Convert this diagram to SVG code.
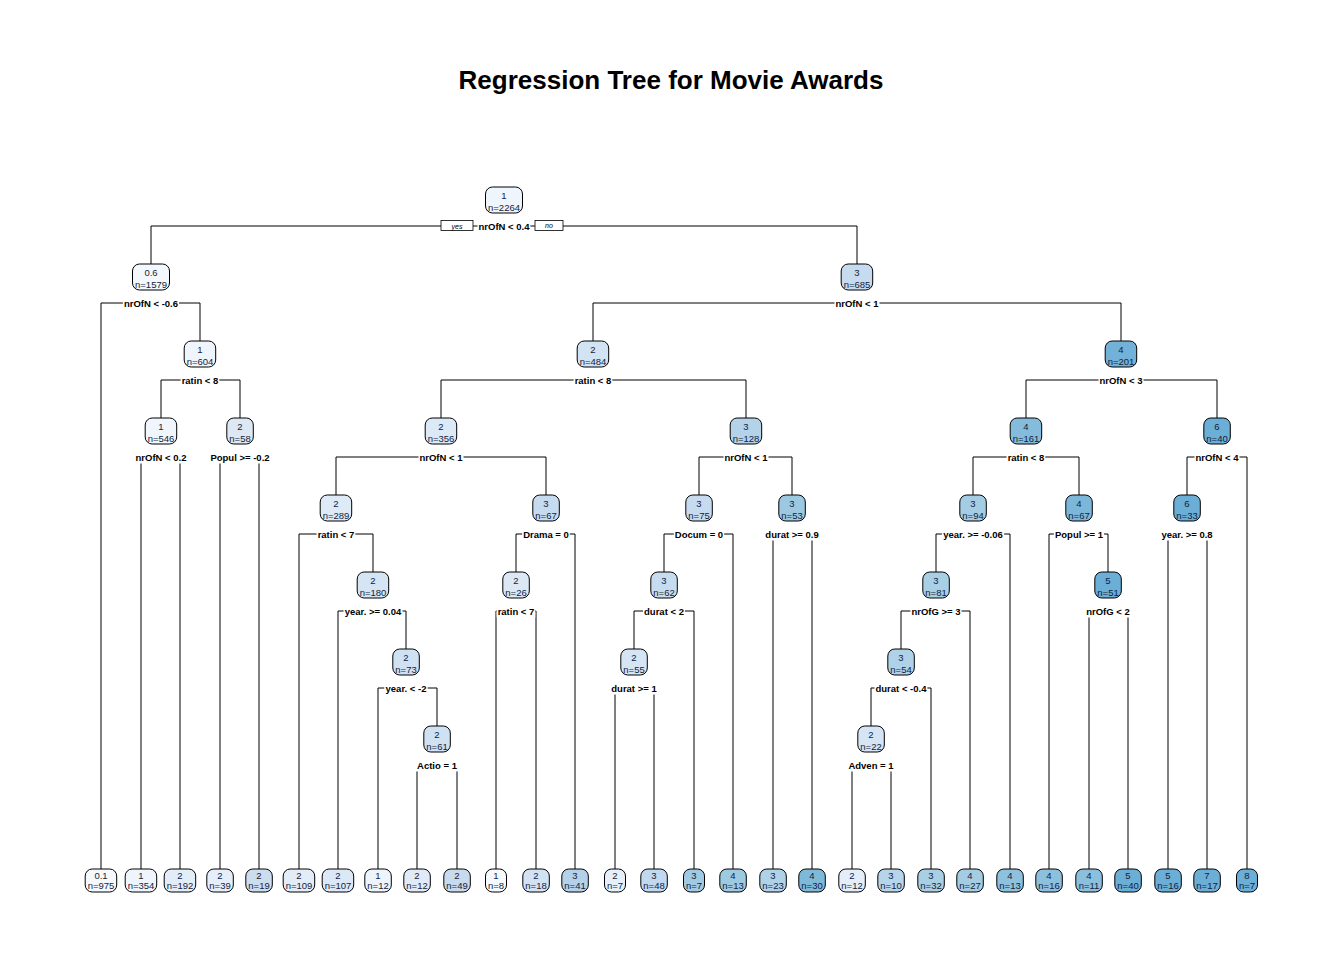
<svg xmlns="http://www.w3.org/2000/svg" width="1344" height="960" viewBox="0 0 1344 960">
<style>
.bg{fill:#fff}
.title{font-family:"Liberation Sans",Arial,sans-serif;font-size:26px;font-weight:bold;fill:#000;text-anchor:middle}
.lbl{font-family:"Liberation Sans",Arial,sans-serif;font-size:9.5px;font-weight:bold;fill:#000;text-anchor:middle}
.lb{fill:#fff}
.box{stroke:#000;stroke-width:1}
.t{font-family:"Liberation Sans",Arial,sans-serif;font-size:9.5px;fill:#141c3c;text-anchor:middle}
.yn{fill:#fff;stroke:#000;stroke-width:0.8}
.ynt{font-family:"Liberation Sans",Arial,sans-serif;font-size:7px;font-style:italic;fill:#000;text-anchor:middle}
.c{fill:none;stroke:#000;stroke-width:1}
</style>
<rect class="bg" x="0" y="0" width="1344" height="960"/>
<text class="title" x="671" y="89">Regression Tree for Movie Awards</text>
<g id="connectors" class="c">
<path d="M151 264V226H857V264"/>
<path d="M101 869V303H200V341"/>
<path d="M593 341V303H1121V341"/>
<path d="M161 418V380H240V418"/>
<path d="M441 418V380H746V418"/>
<path d="M1026 418V380H1217V418"/>
<path d="M141 869V457H180V869"/>
<path d="M220 869V457H259V869"/>
<path d="M336 495V457H546V495"/>
<path d="M699 495V457H792V495"/>
<path d="M973 495V457H1079V495"/>
<path d="M1187 495V457H1247V869"/>
<path d="M299 869V534H373V572"/>
<path d="M516 572V534H575V869"/>
<path d="M664 572V534H733V869"/>
<path d="M773 869V534H812V869"/>
<path d="M936 572V534H1010V869"/>
<path d="M1049 869V534H1108V572"/>
<path d="M1168 869V534H1207V869"/>
<path d="M338 869V611H406V649"/>
<path d="M496 869V611H536V869"/>
<path d="M634 649V611H694V869"/>
<path d="M901 649V611H970V869"/>
<path d="M1089 869V611H1128V869"/>
<path d="M378 869V688H437V726"/>
<path d="M615 869V688H654V869"/>
<path d="M871 726V688H931V869"/>
<path d="M417 869V765H457V869"/>
<path d="M852 869V765H891V869"/>
</g>
<g id="node1">
<rect class="box" x="485.5" y="187" width="37" height="26" rx="7" fill="#EEF5FC"/>
<text class="t" x="504" y="198.5">1</text><text class="t" x="504" y="210.5">n=2264</text>
<rect class="lb" x="477.5" y="220" width="52.9" height="12.5"/><text class="lbl" x="504" y="229.5">nrOfN &lt; 0.4</text>
<rect class="yn" x="441" y="220.5" width="32" height="10"/><text class="ynt" x="457" y="228.5">yes</text>
<rect class="yn" x="535" y="220.5" width="28" height="10"/><text class="ynt" x="549" y="228">no</text>
</g>
<g id="node2">
<rect class="box" x="132.5" y="264" width="37" height="26" rx="7" fill="#F3F8FD"/>
<text class="t" x="151" y="275.5">0.6</text><text class="t" x="151" y="287.5">n=1579</text>
<rect class="lb" x="122.9" y="297" width="56.1" height="12.5"/><text class="lbl" x="151" y="306.5">nrOfN &lt; -0.6</text>
</g>
<g id="node3">
<rect class="box" x="841.2" y="264" width="31.5" height="26" rx="7" fill="#C6DBEF"/>
<text class="t" x="857" y="275.5">3</text><text class="t" x="857" y="287.5">n=685</text>
<rect class="lb" x="834.5" y="297" width="45" height="12.5"/><text class="lbl" x="857" y="306.5">nrOfN &lt; 1</text>
</g>
<g id="node5">
<rect class="box" x="184.2" y="341" width="31.5" height="26" rx="7" fill="#EEF5FC"/>
<text class="t" x="200" y="352.5">1</text><text class="t" x="200" y="364.5">n=604</text>
<rect class="lb" x="180.6" y="374" width="38.7" height="12.5"/><text class="lbl" x="200" y="383.5">ratin &lt; 8</text>
</g>
<g id="node6">
<rect class="box" x="577.2" y="341" width="31.5" height="26" rx="7" fill="#D2E3F3"/>
<text class="t" x="593" y="352.5">2</text><text class="t" x="593" y="364.5">n=484</text>
<rect class="lb" x="573.6" y="374" width="38.7" height="12.5"/><text class="lbl" x="593" y="383.5">ratin &lt; 8</text>
</g>
<g id="node7">
<rect class="box" x="1105.2" y="341" width="31.5" height="26" rx="7" fill="#72B2D8"/>
<text class="t" x="1121" y="352.5">4</text><text class="t" x="1121" y="364.5">n=201</text>
<rect class="lb" x="1098.5" y="374" width="45" height="12.5"/><text class="lbl" x="1121" y="383.5">nrOfN &lt; 3</text>
</g>
<g id="node10">
<rect class="box" x="145.2" y="418" width="31.5" height="26" rx="7" fill="#F0F6FC"/>
<text class="t" x="161" y="429.5">1</text><text class="t" x="161" y="441.5">n=546</text>
<rect class="lb" x="134.5" y="451" width="52.9" height="12.5"/><text class="lbl" x="161" y="460.5">nrOfN &lt; 0.2</text>
</g>
<g id="node11">
<rect class="box" x="226.8" y="418" width="26.5" height="26" rx="7" fill="#DDE8F5"/>
<text class="t" x="240" y="429.5">2</text><text class="t" x="240" y="441.5">n=58</text>
<rect class="lb" x="209.4" y="451" width="61.1" height="12.5"/><text class="lbl" x="240" y="460.5">Popul &gt;= -0.2</text>
</g>
<g id="node12">
<rect class="box" x="425.2" y="418" width="31.5" height="26" rx="7" fill="#DCE9F6"/>
<text class="t" x="441" y="429.5">2</text><text class="t" x="441" y="441.5">n=356</text>
<rect class="lb" x="418.5" y="451" width="45" height="12.5"/><text class="lbl" x="441" y="460.5">nrOfN &lt; 1</text>
</g>
<g id="node13">
<rect class="box" x="730.2" y="418" width="31.5" height="26" rx="7" fill="#B4D3E9"/>
<text class="t" x="746" y="429.5">3</text><text class="t" x="746" y="441.5">n=128</text>
<rect class="lb" x="723.5" y="451" width="45" height="12.5"/><text class="lbl" x="746" y="460.5">nrOfN &lt; 1</text>
</g>
<g id="node14">
<rect class="box" x="1010.2" y="418" width="31.5" height="26" rx="7" fill="#85BCDC"/>
<text class="t" x="1026" y="429.5">4</text><text class="t" x="1026" y="441.5">n=161</text>
<rect class="lb" x="1006.6" y="451" width="38.7" height="12.5"/><text class="lbl" x="1026" y="460.5">ratin &lt; 8</text>
</g>
<g id="node15">
<rect class="box" x="1203.8" y="418" width="26.5" height="26" rx="7" fill="#6BAED6"/>
<text class="t" x="1217" y="429.5">6</text><text class="t" x="1217" y="441.5">n=40</text>
<rect class="lb" x="1194.5" y="451" width="45" height="12.5"/><text class="lbl" x="1217" y="460.5">nrOfN &lt; 4</text>
</g>
<g id="node24">
<rect class="box" x="320.2" y="495" width="31.5" height="26" rx="7" fill="#DEEAF6"/>
<text class="t" x="336" y="506.5">2</text><text class="t" x="336" y="518.5">n=289</text>
<rect class="lb" x="316.6" y="528" width="38.7" height="12.5"/><text class="lbl" x="336" y="537.5">ratin &lt; 7</text>
</g>
<g id="node25">
<rect class="box" x="532.8" y="495" width="26.5" height="26" rx="7" fill="#C6DBEF"/>
<text class="t" x="546" y="506.5">3</text><text class="t" x="546" y="518.5">n=67</text>
<rect class="lb" x="522.1" y="528" width="47.7" height="12.5"/><text class="lbl" x="546" y="537.5">Drama = 0</text>
</g>
<g id="node26">
<rect class="box" x="685.8" y="495" width="26.5" height="26" rx="7" fill="#C6DBEF"/>
<text class="t" x="699" y="506.5">3</text><text class="t" x="699" y="518.5">n=75</text>
<rect class="lb" x="673.8" y="528" width="50.3" height="12.5"/><text class="lbl" x="699" y="537.5">Docum = 0</text>
</g>
<g id="node27">
<rect class="box" x="778.8" y="495" width="26.5" height="26" rx="7" fill="#9CC9E1"/>
<text class="t" x="792" y="506.5">3</text><text class="t" x="792" y="518.5">n=53</text>
<rect class="lb" x="764.3" y="528" width="55.3" height="12.5"/><text class="lbl" x="792" y="537.5">durat &gt;= 0.9</text>
</g>
<g id="node28">
<rect class="box" x="959.8" y="495" width="26.5" height="26" rx="7" fill="#A4CCE3"/>
<text class="t" x="973" y="506.5">3</text><text class="t" x="973" y="518.5">n=94</text>
<rect class="lb" x="941.9" y="528" width="62.2" height="12.5"/><text class="lbl" x="973" y="537.5">year. &gt;= -0.06</text>
</g>
<g id="node29">
<rect class="box" x="1065.8" y="495" width="26.5" height="26" rx="7" fill="#7CB7DA"/>
<text class="t" x="1079" y="506.5">4</text><text class="t" x="1079" y="518.5">n=67</text>
<rect class="lb" x="1053.9" y="528" width="50.1" height="12.5"/><text class="lbl" x="1079" y="537.5">Popul &gt;= 1</text>
</g>
<g id="node30">
<rect class="box" x="1173.8" y="495" width="26.5" height="26" rx="7" fill="#6BAED6"/>
<text class="t" x="1187" y="506.5">6</text><text class="t" x="1187" y="518.5">n=33</text>
<rect class="lb" x="1160.1" y="528" width="53.8" height="12.5"/><text class="lbl" x="1187" y="537.5">year. &gt;= 0.8</text>
</g>
<g id="node49">
<rect class="box" x="357.2" y="572" width="31.5" height="26" rx="7" fill="#D6E5F4"/>
<text class="t" x="373" y="583.5">2</text><text class="t" x="373" y="595.5">n=180</text>
<rect class="lb" x="343.5" y="605" width="59" height="12.5"/><text class="lbl" x="373" y="614.5">year. &gt;= 0.04</text>
</g>
<g id="node50">
<rect class="box" x="502.8" y="572" width="26.5" height="26" rx="7" fill="#DCE8F5"/>
<text class="t" x="516" y="583.5">2</text><text class="t" x="516" y="595.5">n=26</text>
<rect class="lb" x="496.6" y="605" width="38.7" height="12.5"/><text class="lbl" x="516" y="614.5">ratin &lt; 7</text>
</g>
<g id="node52">
<rect class="box" x="650.8" y="572" width="26.5" height="26" rx="7" fill="#C8DCEF"/>
<text class="t" x="664" y="583.5">3</text><text class="t" x="664" y="595.5">n=62</text>
<rect class="lb" x="643" y="605" width="41.9" height="12.5"/><text class="lbl" x="664" y="614.5">durat &lt; 2</text>
</g>
<g id="node56">
<rect class="box" x="922.8" y="572" width="26.5" height="26" rx="7" fill="#A9CFE5"/>
<text class="t" x="936" y="583.5">3</text><text class="t" x="936" y="595.5">n=81</text>
<rect class="lb" x="910.4" y="605" width="51.1" height="12.5"/><text class="lbl" x="936" y="614.5">nrOfG &gt;= 3</text>
</g>
<g id="node59">
<rect class="box" x="1094.8" y="572" width="26.5" height="26" rx="7" fill="#6BAED6"/>
<text class="t" x="1108" y="583.5">5</text><text class="t" x="1108" y="595.5">n=51</text>
<rect class="lb" x="1085.2" y="605" width="45.6" height="12.5"/><text class="lbl" x="1108" y="614.5">nrOfG &lt; 2</text>
</g>
<g id="node98">
<rect class="box" x="392.8" y="649" width="26.5" height="26" rx="7" fill="#D0E1F2"/>
<text class="t" x="406" y="660.5">2</text><text class="t" x="406" y="672.5">n=73</text>
<rect class="lb" x="384.2" y="682" width="43.5" height="12.5"/><text class="lbl" x="406" y="691.5">year. &lt; -2</text>
</g>
<g id="node104">
<rect class="box" x="620.8" y="649" width="26.5" height="26" rx="7" fill="#D6E5F4"/>
<text class="t" x="634" y="660.5">2</text><text class="t" x="634" y="672.5">n=55</text>
<rect class="lb" x="610.3" y="682" width="47.4" height="12.5"/><text class="lbl" x="634" y="691.5">durat &gt;= 1</text>
</g>
<g id="node112">
<rect class="box" x="887.8" y="649" width="26.5" height="26" rx="7" fill="#B0D2E8"/>
<text class="t" x="901" y="660.5">3</text><text class="t" x="901" y="672.5">n=54</text>
<rect class="lb" x="874.5" y="682" width="52.9" height="12.5"/><text class="lbl" x="901" y="691.5">durat &lt; -0.4</text>
</g>
<g id="node196">
<rect class="box" x="423.8" y="726" width="26.5" height="26" rx="7" fill="#D0E1F2"/>
<text class="t" x="437" y="737.5">2</text><text class="t" x="437" y="749.5">n=61</text>
<rect class="lb" x="416" y="759" width="41.9" height="12.5"/><text class="lbl" x="437" y="768.5">Actio = 1</text>
</g>
<g id="node224">
<rect class="box" x="857.8" y="726" width="26.5" height="26" rx="7" fill="#D6E5F4"/>
<text class="t" x="871" y="737.5">2</text><text class="t" x="871" y="749.5">n=22</text>
<rect class="lb" x="847.4" y="759" width="47.1" height="12.5"/><text class="lbl" x="871" y="768.5">Adven = 1</text>
</g>
<g id="leaf1"><rect class="box" x="85.2" y="869" width="31.5" height="23" rx="7" fill="#F5F9FE"/><text class="t" x="101" y="878.5">0.1</text><text class="t" x="101" y="889">n=975</text></g>
<g id="leaf2"><rect class="box" x="125.2" y="869" width="31.5" height="23" rx="7" fill="#EEF5FC"/><text class="t" x="141" y="878.5">1</text><text class="t" x="141" y="889">n=354</text></g>
<g id="leaf3"><rect class="box" x="164.2" y="869" width="31.5" height="23" rx="7" fill="#E2EDF8"/><text class="t" x="180" y="878.5">2</text><text class="t" x="180" y="889">n=192</text></g>
<g id="leaf4"><rect class="box" x="206.8" y="869" width="26.5" height="23" rx="7" fill="#E6EFF9"/><text class="t" x="220" y="878.5">2</text><text class="t" x="220" y="889">n=39</text></g>
<g id="leaf5"><rect class="box" x="245.8" y="869" width="26.5" height="23" rx="7" fill="#CCDDF0"/><text class="t" x="259" y="878.5">2</text><text class="t" x="259" y="889">n=19</text></g>
<g id="leaf6"><rect class="box" x="283.2" y="869" width="31.5" height="23" rx="7" fill="#E2EDF8"/><text class="t" x="299" y="878.5">2</text><text class="t" x="299" y="889">n=109</text></g>
<g id="leaf7"><rect class="box" x="322.2" y="869" width="31.5" height="23" rx="7" fill="#DCE8F5"/><text class="t" x="338" y="878.5">2</text><text class="t" x="338" y="889">n=107</text></g>
<g id="leaf8"><rect class="box" x="364.8" y="869" width="26.5" height="23" rx="7" fill="#EEF4FB"/><text class="t" x="378" y="878.5">1</text><text class="t" x="378" y="889">n=12</text></g>
<g id="leaf9"><rect class="box" x="403.8" y="869" width="26.5" height="23" rx="7" fill="#E0EBF7"/><text class="t" x="417" y="878.5">2</text><text class="t" x="417" y="889">n=12</text></g>
<g id="leaf10"><rect class="box" x="443.8" y="869" width="26.5" height="23" rx="7" fill="#C8DAEE"/><text class="t" x="457" y="878.5">2</text><text class="t" x="457" y="889">n=49</text></g>
<g id="leaf11"><rect class="box" x="485.5" y="869" width="21" height="23" rx="7" fill="#F6FAFE"/><text class="t" x="496" y="878.5">1</text><text class="t" x="496" y="889">n=8</text></g>
<g id="leaf12"><rect class="box" x="522.8" y="869" width="26.5" height="23" rx="7" fill="#D2E2F3"/><text class="t" x="536" y="878.5">2</text><text class="t" x="536" y="889">n=18</text></g>
<g id="leaf13"><rect class="box" x="561.8" y="869" width="26.5" height="23" rx="7" fill="#B3D2E9"/><text class="t" x="575" y="878.5">3</text><text class="t" x="575" y="889">n=41</text></g>
<g id="leaf14"><rect class="box" x="604.5" y="869" width="21" height="23" rx="7" fill="#E6F0FA"/><text class="t" x="615" y="878.5">2</text><text class="t" x="615" y="889">n=7</text></g>
<g id="leaf15"><rect class="box" x="640.8" y="869" width="26.5" height="23" rx="7" fill="#C2D8EE"/><text class="t" x="654" y="878.5">3</text><text class="t" x="654" y="889">n=48</text></g>
<g id="leaf16"><rect class="box" x="683.5" y="869" width="21" height="23" rx="7" fill="#9FCAE2"/><text class="t" x="694" y="878.5">3</text><text class="t" x="694" y="889">n=7</text></g>
<g id="leaf17"><rect class="box" x="719.8" y="869" width="26.5" height="23" rx="7" fill="#9DC9E1"/><text class="t" x="733" y="878.5">4</text><text class="t" x="733" y="889">n=13</text></g>
<g id="leaf18"><rect class="box" x="759.8" y="869" width="26.5" height="23" rx="7" fill="#B0D2E8"/><text class="t" x="773" y="878.5">3</text><text class="t" x="773" y="889">n=23</text></g>
<g id="leaf19"><rect class="box" x="798.8" y="869" width="26.5" height="23" rx="7" fill="#7FB9DA"/><text class="t" x="812" y="878.5">4</text><text class="t" x="812" y="889">n=30</text></g>
<g id="leaf20"><rect class="box" x="838.8" y="869" width="26.5" height="23" rx="7" fill="#E4EEF8"/><text class="t" x="852" y="878.5">2</text><text class="t" x="852" y="889">n=12</text></g>
<g id="leaf21"><rect class="box" x="877.8" y="869" width="26.5" height="23" rx="7" fill="#B6D4EA"/><text class="t" x="891" y="878.5">3</text><text class="t" x="891" y="889">n=10</text></g>
<g id="leaf22"><rect class="box" x="917.8" y="869" width="26.5" height="23" rx="7" fill="#A9CFE5"/><text class="t" x="931" y="878.5">3</text><text class="t" x="931" y="889">n=32</text></g>
<g id="leaf23"><rect class="box" x="956.8" y="869" width="26.5" height="23" rx="7" fill="#A4CCE3"/><text class="t" x="970" y="878.5">4</text><text class="t" x="970" y="889">n=27</text></g>
<g id="leaf24"><rect class="box" x="996.8" y="869" width="26.5" height="23" rx="7" fill="#8DC1DD"/><text class="t" x="1010" y="878.5">4</text><text class="t" x="1010" y="889">n=13</text></g>
<g id="leaf25"><rect class="box" x="1035.8" y="869" width="26.5" height="23" rx="7" fill="#8DC0DD"/><text class="t" x="1049" y="878.5">4</text><text class="t" x="1049" y="889">n=16</text></g>
<g id="leaf26"><rect class="box" x="1075.8" y="869" width="26.5" height="23" rx="7" fill="#8AC0DD"/><text class="t" x="1089" y="878.5">4</text><text class="t" x="1089" y="889">n=11</text></g>
<g id="leaf27"><rect class="box" x="1114.8" y="869" width="26.5" height="23" rx="7" fill="#6BAED6"/><text class="t" x="1128" y="878.5">5</text><text class="t" x="1128" y="889">n=40</text></g>
<g id="leaf28"><rect class="box" x="1154.8" y="869" width="26.5" height="23" rx="7" fill="#6BAED6"/><text class="t" x="1168" y="878.5">5</text><text class="t" x="1168" y="889">n=16</text></g>
<g id="leaf29"><rect class="box" x="1193.8" y="869" width="26.5" height="23" rx="7" fill="#6BAED6"/><text class="t" x="1207" y="878.5">7</text><text class="t" x="1207" y="889">n=17</text></g>
<g id="leaf30"><rect class="box" x="1236.5" y="869" width="21" height="23" rx="7" fill="#6BAED6"/><text class="t" x="1247" y="878.5">8</text><text class="t" x="1247" y="889">n=7</text></g>
</svg>
